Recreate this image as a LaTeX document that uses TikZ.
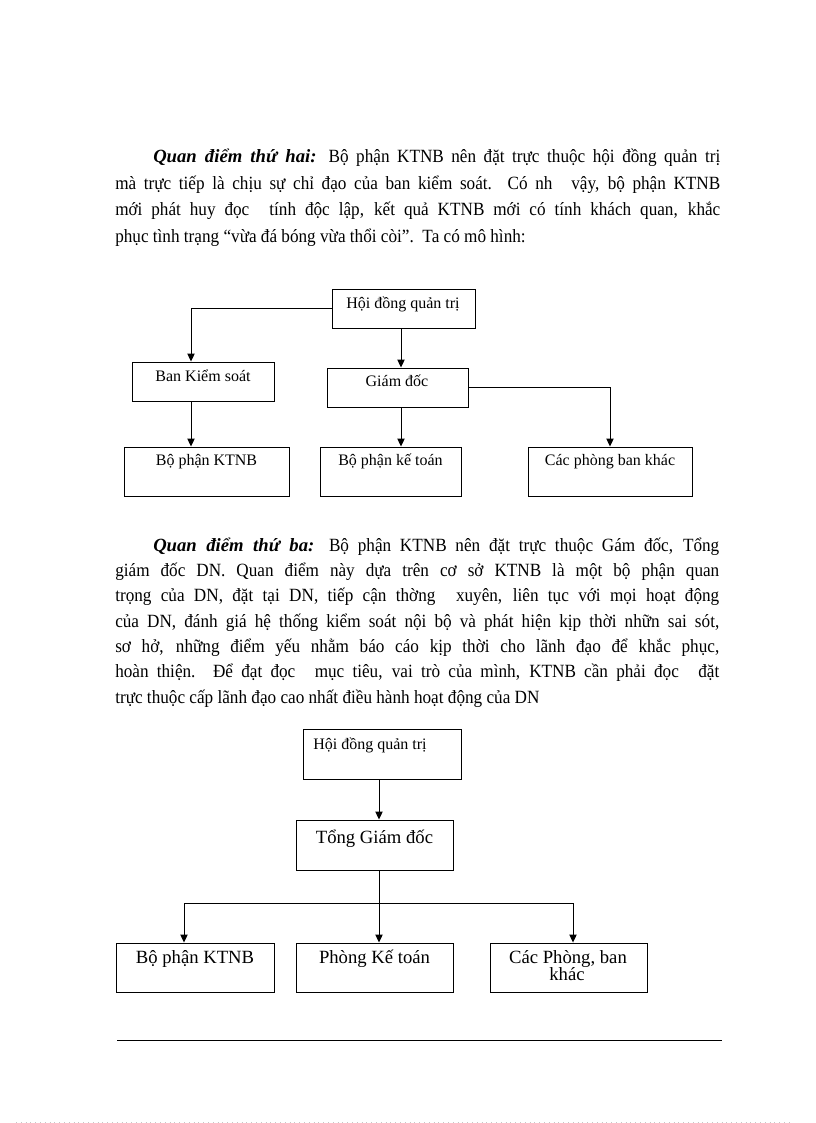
\documentclass[tikz,border=0pt]{standalone}
\usepackage{fontspec}
\setmainfont{Liberation Serif}
\newfontfamily\parafont[FakeStretch=0.92]{Liberation Serif}
\newcommand{\headbi}[1]{{\rmfamily\bfseries\itshape #1}}
\usetikzlibrary{arrows.meta,fit,calc}
\begin{document}
\begin{tikzpicture}[x=0.75pt,y=-0.75pt,
  box/.style={draw,line width=0.7pt,inner sep=0pt},
  ln/.style={line width=0.7pt},
  arr/.style={line width=0.7pt,-{Triangle[length=6pt,width=5.5pt]}},
  para/.style={anchor=base west,inner sep=0pt,font=\parafont\fontsize{14pt}{16pt}\selectfont},
  lblA/.style={anchor=base,inner sep=0pt,font=\fontsize{12pt}{14pt}\selectfont},
  lblAL/.style={anchor=base west,inner sep=0pt,font=\fontsize{12pt}{14pt}\selectfont},
  lblB/.style={anchor=base,inner sep=0pt,font=\fontsize{14pt}{17pt}\selectfont},
]
\useasboundingbox[fill=white] (0,0) rectangle (816,1123);

% ---------- paragraph 1 ----------
\node[para] (p1a) at (153,163) {\makebox[425.25pt][s]{\headbi{Quan điểm thứ hai:} Bộ phận KTNB nên đặt trực thuộc hội đồng quản trị}};
\node[para] (p1b) at (115,189.5) {\makebox[453.75pt][s]{mà trực tiếp là chịu sự chỉ đạo của ban kiểm soát. Có nh\hspace{0.6em} vậy, bộ phận KTNB}};
\node[para] (p1c) at (115,216) {\makebox[453.75pt][s]{mới phát huy đọc\hspace{0.6em} tính độc lập, kết quả KTNB mới có tính khách quan, khắc}};
\node[para] (p1d) at (115,242.5) {phục tình trạng “vừa đá bóng vừa thổi còi”.\ \ Ta có mô hình:};

% ---------- diagram 1 ----------
\coordinate (c191) at (191,0);
\coordinate (c401) at (401,0);
\node[box,fit={(332,289) (475,328)}] (h1) {};
\node[box,fit={(132,362) (274,401)}] (bks) {};
\node[box,fit={(327,368) (468,407)}] (gd) {};
\node[box,fit={(124,447) (289,496)}] (k1) {};
\node[box,fit={(320,447) (461,496)}] (kt) {};
\node[box,fit={(528,447) (692,496)}] (cp) {};

\node[lblA] (h1t) at (403,308) {Hội đồng quản trị};
\node[lblA] (bkst) at (203,381) {Ban Kiểm soát};
\node[lblA] (gdt) at (397,386.5) {Giám đốc};
\node[lblA] (k1t) at (206.5,465) {Bộ phận KTNB};
\node[lblA] (ktt) at (390.5,465) {Bộ phận kế toán};
\node[lblA] (cpt) at (610,465) {Các phòng ban khác};

\draw[arr] (h1.west) -| (bks.north -| c191);
\draw[arr] (h1.south -| c401) -- (gd.north -| c401);
\draw[arr] (bks.south -| c191) -- (k1.north -| c191);
\draw[arr] (gd.south -| c401) -- (kt.north -| c401);
\draw[arr] (gd.east) -| (cp.north);

% ---------- paragraph 2 ----------
\node[para] (p2a) at (153,551) {\makebox[424.5pt][s]{\headbi{Quan điểm thứ ba:} Bộ phận KTNB nên đặt trực thuộc Gám đốc, Tổng}};
\node[para] (p2b) at (115,576.3) {\makebox[453pt][s]{giám đốc DN. Quan điểm này dựa trên cơ sở KTNB là một bộ phận quan}};
\node[para] (p2c) at (115,601.7) {\makebox[453pt][s]{trọng của DN, đặt tại DN, tiếp cận thờng\hspace{0.6em} xuyên, liên tục với mọi hoạt động}};
\node[para] (p2d) at (115,627) {\makebox[453pt][s]{của DN, đánh giá hệ thống kiểm soát nội bộ và phát hiện kịp thời nhữn sai sót,}};
\node[para] (p2e) at (115,652.3) {\makebox[453pt][s]{sơ hở, những điểm yếu nhằm báo cáo kịp thời cho lãnh đạo để khắc phục,}};
\node[para] (p2f) at (115,677.7) {\makebox[453pt][s]{hoàn thiện. Để đạt đọc\hspace{0.6em} mục tiêu, vai trò của mình, KTNB cần phải đọc\hspace{0.6em} đặt}};
\node[para] (p2g) at (115,703) {trực thuộc cấp lãnh đạo cao nhất điều hành hoạt động của DN};

% ---------- diagram 2 ----------
\coordinate (c379) at (379,0);
\coordinate (c184) at (184,0);
\coordinate (c573) at (573,0);
\coordinate (jn) at (379,903);
\node[box,fit={(303,729) (461,779)}] (h2) {};
\node[box,fit={(296,820) (453,870)}] (tg) {};
\node[box,fit={(116,943) (274,992)}] (b1) {};
\node[box,fit={(296,943) (453,992)}] (b2) {};
\node[box,fit={(490,943) (647,992)}] (b3) {};

\node[lblAL] (h2t) at (313,749) {Hội đồng quản trị};
\node[lblB] (tgt) at (374.5,843) {Tổng Giám đốc};
\node[lblB] (b1t) at (195,963) {Bộ phận KTNB};
\node[lblB] (b2t) at (374.5,963) {Phòng Kế toán};
\node[lblB] (b3t) at (568,963) {Các Phòng, ban};
\node[lblB] (b3u) at (567,980) {khác};

\draw[arr] (h2.south -| c379) -- (tg.north -| c379);
\draw[ln] (tg.south -| c379) -- (jn);
\draw[arr] (jn) -- (b2.north -| c379);
\draw[arr] (jn) -| (b1.north -| c184);
\draw[arr] (jn) -| (b3.north -| c573);

% ---------- footer ----------
\draw[line width=0.7pt] (117,1040) -- (722,1040);
\draw[gray!45,line width=0.5pt,dash pattern=on 0.6pt off 3pt] (16,1122) -- (792,1122);
\end{tikzpicture}
\end{document}
